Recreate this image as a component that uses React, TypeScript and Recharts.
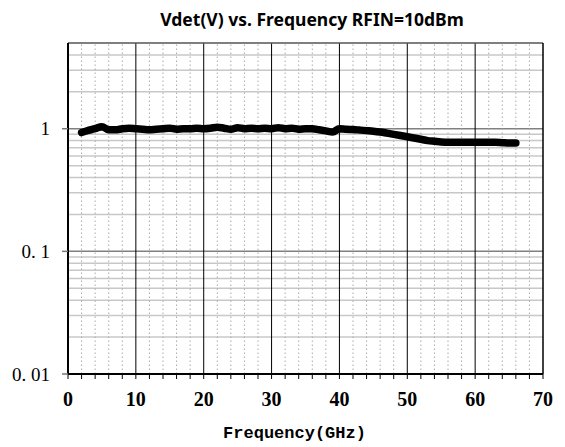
import { CartesianGrid, Line, LineChart, ReferenceLine, XAxis, YAxis } from "recharts";

const freqs = [
  2, 3, 4, 5, 6, 7, 8, 9, 10, 11, 12, 13, 14, 15, 16, 17, 18, 19, 20, 21, 22, 23, 24, 25, 26, 27, 28, 29, 30, 31, 32,
  33, 34, 35, 36, 37, 38, 39, 40, 41, 42, 43, 44, 45, 46, 47, 48, 49, 50, 51, 52, 53, 54, 55, 56, 57, 58, 59, 60, 61,
  62, 63, 64, 65, 66,
];
const vdet = [
  0.93, 0.97, 1.0, 1.04, 0.98, 0.98, 1.0, 1.01, 1.0, 0.99, 0.98, 0.99, 1.0, 1.01, 0.99, 1.0, 1.0, 1.01, 1.0, 1.01,
  1.03, 1.01, 0.99, 1.02, 1.0, 1.01, 1.0, 1.01, 1.0, 1.02, 1.0, 1.01, 0.99, 1.0, 1.0, 0.98, 0.96, 0.94, 1.0, 0.99,
  0.985, 0.975, 0.965, 0.955, 0.94, 0.92, 0.9, 0.88, 0.86, 0.84, 0.82, 0.8, 0.79, 0.78, 0.775, 0.775, 0.775, 0.775,
  0.775, 0.775, 0.775, 0.775, 0.77, 0.765, 0.765,
];

const xTickMarks = [0, 2, 4, 6, 8, 10, 12, 14, 16, 18, 20, 22, 24, 26, 28, 30, 32, 34, 36, 38, 40, 42, 44, 46, 48, 50, 52, 54, 56, 58, 60, 62, 64, 66, 68, 70];
const majorX = [10, 20, 30, 40, 50, 60];
const minorX = xTickMarks.filter((v) => v % 10 !== 0);
const yTicks = [0.01, 0.1, 1];
const yTickLabels: Record<number, string> = { 0.01: "0. 01", 0.1: "0. 1", 1: "1" };
const majorY = [0.1, 1];
const minorY = [0.02, 0.03, 0.04, 0.05, 0.06, 0.07, 0.08, 0.09, 0.2, 0.3, 0.4, 0.5, 0.6, 0.7, 0.8, 0.9, 2, 3, 4];

const data = freqs.map((f, i) => ({ f, v: vdet[i] }));

export default function App() {
  return (
    <div style={{ position: "absolute", left: 0, top: 0, width: 565, height: 447, background: "#fff" }}>
      <div
        style={{
          position: "absolute",
          top: 7,
          left: 112,
          width: 400,
          textAlign: "center",
          fontFamily: "'Noto Sans', sans-serif",
          fontWeight: 700,
          fontSize: 17.5,
          lineHeight: "24px",
        }}
      >
        Vdet(V) vs. Frequency RFIN=10dBm
      </div>
      <LineChart width={565} height={447} data={data} margin={{ top: 43, right: 22, bottom: 0, left: 0 }}>
        <CartesianGrid horizontal={false} vertical={false} />
        <XAxis
          dataKey="f"
          type="number"
          domain={[0, 70]}
          ticks={xTickMarks}
          interval={0}
          height={73}
          tickFormatter={(v: number) => (v % 10 === 0 ? String(v) : "")}
          tick={{ fill: "#000", fontFamily: "'Liberation Serif', serif", fontWeight: 700, fontSize: 20 }}
          tickSize={5}
          tickMargin={13}
          tickLine={{ stroke: "#000" }}
          axisLine={{ stroke: "#000", strokeWidth: 2 }}
          label={{
            value: "Frequency(GHz)",
            position: "insideBottom",
            offset: 9,
            dx: -11,
            fill: "#000",
            fontFamily: "'Liberation Mono', monospace",
            fontWeight: 700,
            fontSize: 17,
          }}
        />
        <YAxis
          type="number"
          scale="log"
          domain={[0.01, 5]}
          allowDataOverflow
          ticks={yTicks}
          width={68}
          tickFormatter={(v: number) => yTickLabels[v] ?? ""}
          tick={{ fill: "#000", fontFamily: "'Liberation Serif', serif", fontSize: 19 }}
          tickSize={6}
          tickMargin={12}
          tickLine={{ stroke: "#777", strokeWidth: 1.5 }}
          axisLine={{ stroke: "#000", strokeWidth: 2 }}
        />
        {minorY.map((y) => (
          <ReferenceLine key={"my" + y} y={y} stroke="#c8c8c8" strokeWidth={1.5} />
        ))}
        {majorY.map((y) => (
          <ReferenceLine key={"My" + y} y={y} stroke="#808080" strokeWidth={1.5} />
        ))}
        {minorX.map((x) => (
          <ReferenceLine key={"mx" + x} x={x} stroke="#aaa" strokeWidth={1} strokeDasharray="1.5 2.5" />
        ))}
        {majorX.map((x) => (
          <ReferenceLine key={"Mx" + x} x={x} stroke="#000" strokeWidth={1} />
        ))}
        <ReferenceLine y={5} stroke="#555" strokeWidth={1.5} />
        <ReferenceLine x={70} stroke="#000" strokeWidth={1.5} />
        <Line
          type="monotone"
          dataKey="v"
          stroke="#000"
          strokeWidth={7.5}
          strokeLinecap="round"
          strokeLinejoin="round"
          dot={false}
          isAnimationActive={false}
        />
      </LineChart>
    </div>
  );
}
